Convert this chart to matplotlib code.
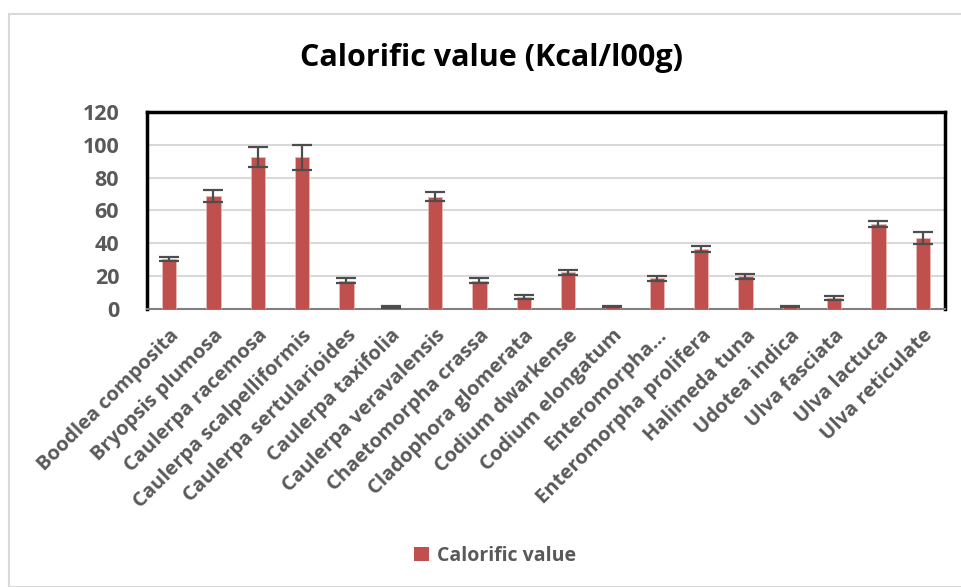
import matplotlib
matplotlib.use("Agg")
import matplotlib.pyplot as plt
from matplotlib.patches import Rectangle, Patch
import numpy as np

species = ["Boodlea composita", "Bryopsis plumosa", "Caulerpa racemosa",
           "Caulerpa scalpelliformis", "Caulerpa sertularioides", "Caulerpa taxifolia",
           "Caulerpa veravalensis", "Chaetomorpha crassa", "Cladophora glomerata",
           "Codium dwarkense", "Codium elongatum", "Enteromorpha…",
           "Enteromorpha prolifera", "Halimeda tuna", "Udotea indica",
           "Ulva fasciata", "Ulva lactuca", "Ulva reticulate"]
calorific = [30.5, 68.7, 92.5, 92.5, 17.3, 1.2, 68.5, 17.2, 7.2, 22.4, 1.6, 18.7,
             36.5, 20.0, 1.5, 6.5, 51.7, 43.5]
errors = [1.2, 3.5, 6.2, 7.6, 1.4, 0.5, 2.7, 1.4, 1.3, 1.6, 0.5, 1.5,
          1.6, 1.6, 0.5, 1.2, 2.0, 3.7]
yticks = [0, 20, 40, 60, 80, 100, 120]

bar_color = "#C0504D"
text_gray = "#595959"
font = "Open Sans"

fig = plt.figure(figsize=(9.61, 5.87), dpi=100)
W, H = 961, 587
# outer chart border
fig.patches.append(Rectangle((9 / W, 0), 1.2, 1 - 14 / H, transform=fig.transFigure,
                             fill=False, edgecolor="#D9D9D9", linewidth=1.5))

ax = fig.add_axes([147 / W, 1 - 309 / H, (945 - 147) / W, (309 - 112) / H])
x = np.arange(len(species))
ax.bar(x, calorific, width=0.32, color=bar_color, edgecolor="#E6B9B8", linewidth=0.6,
       zorder=3, label="Calorific value")
ax.errorbar(x, calorific, yerr=errors, fmt="none", ecolor="#4D4D4D", elinewidth=1.6,
            capsize=7, capthick=1.6, zorder=4)

ax.set_xlim(-0.5, len(species) - 0.5)
ax.set_ylim(0, 120)
ax.set_yticks(yticks)
ax.set_yticklabels([str(v) for v in yticks], fontfamily=font, fontweight="bold",
                   fontsize=15.5, color=text_gray)
ax.set_xticks(x)
ax.set_xticklabels(species, rotation=45, ha="right", rotation_mode="anchor",
                   fontfamily=font, fontweight="bold", fontsize=14.5, color=text_gray)
ax.tick_params(axis="both", length=0)
ax.tick_params(axis="y", pad=20)
ax.tick_params(axis="x", pad=12)
ax.grid(axis="y", color="#D9D9D9", linewidth=1.5, zorder=0)
ax.set_axisbelow(True)
for side in ["left", "top", "right"]:
    ax.spines[side].set_color("black")
    ax.spines[side].set_linewidth(2.5)
ax.spines["bottom"].set_color("#7F7F7F")
ax.spines["bottom"].set_linewidth(1.5)

fig.text(492 / W, 1 - 58 / H, "Calorific value (Kcal/l00g)", ha="center", va="center",
         fontfamily=font, fontweight="bold", fontsize=22, color="black")

leg = fig.legend(handles=[Patch(facecolor=bar_color, label="Calorific value")],
                 loc="center", bbox_to_anchor=(495 / W, 1 - 556 / H), frameon=False,
                 prop={"family": font, "weight": "bold", "size": 14},
                 handlelength=0.75, handleheight=0.75, handletextpad=0.4)
for t in leg.get_texts():
    t.set_color(text_gray)

fig.savefig("out.png", dpi=100)
